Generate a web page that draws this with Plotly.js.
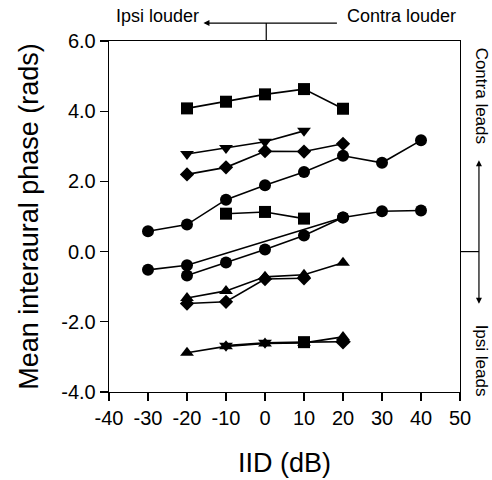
<!DOCTYPE html>
<html>
<head>
<meta charset="utf-8">
<script src="https://cdn.plot.ly/plotly-3.0.1.min.js"></script>
<style>html,body{margin:0;padding:0;background:#fff;}#chart{width:492px;height:480px;}</style>
</head>
<body>
<div id="chart"></div>
<script>
// IID (dB) values and mean interaural phase (rads)
const sqTopX = [-20, -10, 0, 10, 20];
const sqTopY = [4.08, 4.27, 4.48, 4.63, 4.07];

const triDownX = [-20, -10, 0, 10];
const triDownY = [2.78, 2.95, 3.13, 3.44];

const diaUpX = [-20, -10, 0, 10, 20];
const diaUpY = [2.2, 2.4, 2.86, 2.85, 3.07];

const circUpX = [-30, -20, -10, 0, 10, 20, 30, 40];
const circUpY = [0.58, 0.77, 1.48, 1.89, 2.27, 2.73, 2.53, 3.17];

const sqMidX = [-10, 0, 10];
const sqMidY = [1.08, 1.13, 0.94];

const circLowAX = [-30, -20, 20, 30, 40];
const circLowAY = [-0.52, -0.39, 0.97, 1.15, 1.17];

const circLowBX = [-20, -10, 0, 10, 20];
const circLowBY = [-0.68, -0.31, 0.06, 0.46, 0.97];

const triLowX = [-20, -10, 0, 10, 20];
const triLowY = [-1.32, -1.12, -0.72, -0.66, -0.32];

const diaLowX = [-20, -10, 0, 10];
const diaLowY = [-1.48, -1.43, -0.78, -0.76];

const triBotX = [-20, -10, 0, 10, 20];
const triBotY = [-2.88, -2.7, -2.62, -2.6, -2.43];

const botBX = [-10, 0, 10, 20];
const botBY = [-2.68, -2.6, -2.58, -2.57];
const botBSymbols = ['triangle-down', 'triangle-down', 'square', 'diamond'];

const xTicks = [-40, -30, -20, -10, 0, 10, 20, 30, 40, 50];
const yTicks = [-4, -2, 0, 2, 4, 6];

const FONT = 'Liberation Sans, Arial, Helvetica, sans-serif';

function series(x, y, symbol, size) {
  return {
    x: x, y: y, type: 'scatter', mode: 'lines+markers',
    line: {color: '#000', width: 1.6},
    marker: {color: '#000', symbol: symbol, size: size, line: {width: 0}},
    showlegend: false, hoverinfo: 'skip', cliponaxis: false
  };
}

const data = [
  series(sqTopX, sqTopY, 'square', 12),
  series(triDownX, triDownY, 'triangle-down', 12),
  series(diaUpX, diaUpY, 'diamond', 11),
  series(circUpX, circUpY, 'circle', 12),
  series(sqMidX, sqMidY, 'square', 12),
  series(circLowAX, circLowAY, 'circle', 12),
  series(circLowBX, circLowBY, 'circle', 12),
  series(triLowX, triLowY, 'triangle-up', 12),
  series(diaLowX, diaLowY, 'diamond', 11),
  series(triBotX, triBotY, 'triangle-up', 12),
  series(botBX, botBY, botBSymbols, 12)
];

const layout = {
  width: 492, height: 480,
  margin: {l: 108.5, r: 32, t: 40.7, b: 88},
  paper_bgcolor: '#fff', plot_bgcolor: '#fff',
  font: {family: FONT, color: '#000', size: 20},
  xaxis: {
    range: [-40, 50], tickvals: xTicks, ticktext: xTicks.map(String),
    showgrid: false, zeroline: false,
    showline: true, linecolor: '#000', linewidth: 1.3, mirror: true,
    ticks: 'outside', ticklen: 8, tickwidth: 1.3, tickcolor: '#000',
    tickfont: {family: FONT, size: 20, color: '#000'},
    title: {text: 'IID (dB)', font: {family: FONT, size: 27, color: '#000'}, standoff: 24}
  },
  yaxis: {
    range: [-4, 6], tickvals: yTicks, ticktext: yTicks.map(v => v.toFixed(1)),
    showgrid: false, zeroline: false,
    showline: true, linecolor: '#000', linewidth: 1.3, mirror: true,
    ticks: 'outside', ticklen: 8, tickwidth: 1.3, tickcolor: '#000',
    tickfont: {family: FONT, size: 20, color: '#000'},
    title: {text: 'Mean interaural phase (rads)', font: {family: FONT, size: 27, color: '#000'}, standoff: 14}
  },
  shapes: [
    {type: 'line', xref: 'paper', yref: 'paper', x0: 0.448, x1: 0.448, y0: 1.0, y1: 1.051,
     line: {color: '#000', width: 1.2}},
    {type: 'line', xref: 'paper', yref: 'y', x0: 1.0, x1: 1.054, y0: 0, y1: 0,
     line: {color: '#000', width: 1.2}}
  ],
  annotations: [
    {xref: 'paper', yref: 'paper', x: 0.269, y: 1.051, ax: 135, ay: 0,
     text: '', showarrow: true, arrowhead: 2, arrowsize: 1, arrowwidth: 1.2, arrowcolor: '#000'},
    {xref: 'paper', yref: 'paper', x: 0.262, y: 1.07, xanchor: 'right', yanchor: 'middle',
     text: 'Ipsi louder', showarrow: false, font: {family: FONT, size: 18, color: '#000'}},
    {xref: 'paper', yref: 'paper', x: 0.673, y: 1.07, xanchor: 'left', yanchor: 'middle',
     text: 'Contra louder', showarrow: false, font: {family: FONT, size: 18, color: '#000'}},
    {xref: 'paper', yref: 'paper', x: 1.054, y: 0.660, ax: 0, ay: 145,
     text: '', showarrow: true, arrowhead: 2, startarrowhead: 2, arrowside: 'end+start',
     arrowsize: 1, arrowwidth: 1.2, arrowcolor: '#000'},
    {xref: 'paper', yref: 'paper', x: 1.062, y: 0.845, xanchor: 'center', yanchor: 'middle',
     text: 'Contra leads', textangle: 90, showarrow: false, font: {family: FONT, size: 17, color: '#000'}},
    {xref: 'paper', yref: 'paper', x: 1.062, y: 0.09, xanchor: 'center', yanchor: 'middle',
     text: 'Ipsi leads', textangle: 90, showarrow: false, font: {family: FONT, size: 17, color: '#000'}}
  ]
};

Plotly.newPlot('chart', data, layout, {staticPlot: true, displayModeBar: false});
</script>
</body>
</html>
